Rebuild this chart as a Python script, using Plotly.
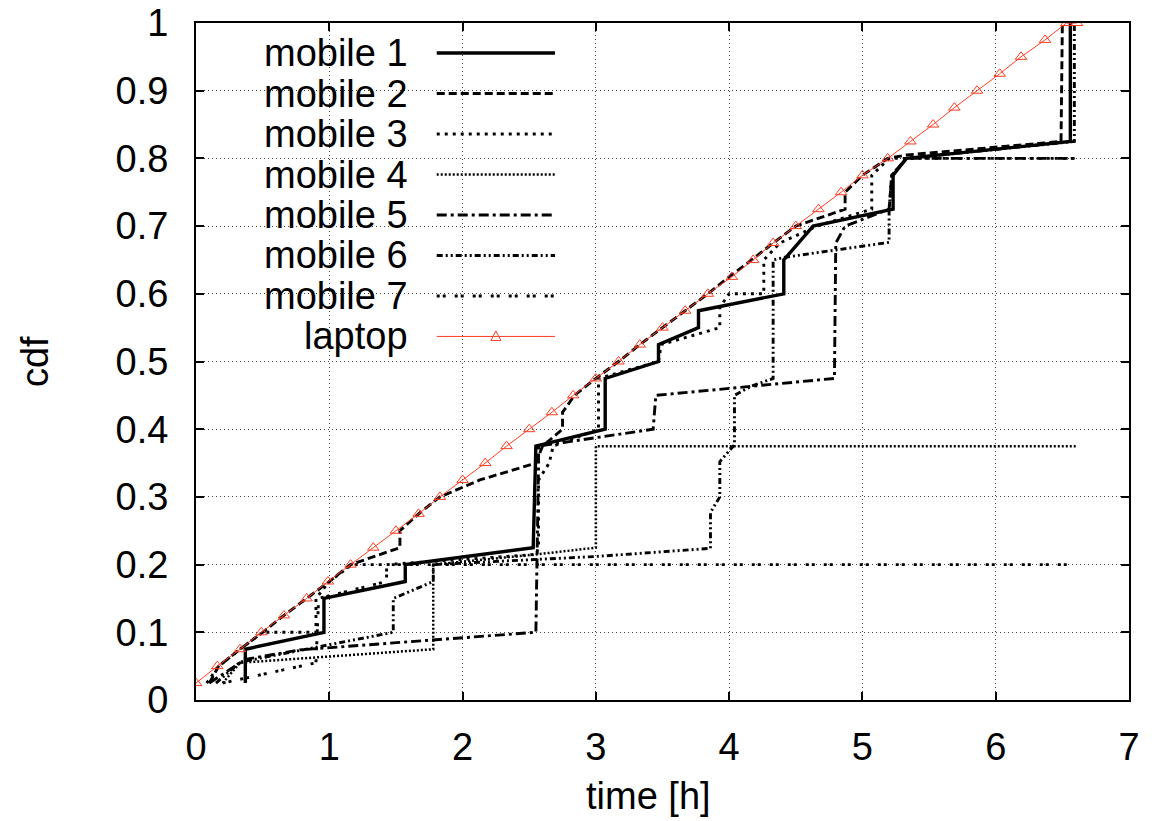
import plotly.graph_objects as go

# ---------------- data ----------------
lap_x = [0.0, 0.16, 0.33, 0.49, 0.66, 0.83, 0.99, 1.16, 1.33, 1.50, 1.67, 1.83, 2.00, 2.17,
         2.33, 2.50, 2.67, 2.83, 3.00, 3.17, 3.33, 3.50, 3.67, 3.84, 4.02, 4.18, 4.33, 4.50,
         4.67, 4.84, 5.00, 5.19, 5.36, 5.53, 5.69, 5.86, 6.03, 6.19, 6.37, 6.53, 6.61]
lap_y = [0.025, 0.05, 0.075, 0.1, 0.125, 0.15, 0.175, 0.2, 0.225, 0.25, 0.275, 0.3, 0.325, 0.35,
         0.375, 0.4, 0.425, 0.45, 0.475, 0.5, 0.525, 0.55, 0.575, 0.6, 0.625, 0.65, 0.675, 0.7,
         0.725, 0.75, 0.775, 0.8, 0.825, 0.85, 0.875, 0.9, 0.925, 0.95, 0.975, 1.0, 1.0]

m1_x = [0.37, 0.37, 0.96, 0.96, 1.57, 1.57, 2.53, 2.55, 3.07, 3.07, 3.47, 3.47, 3.77, 3.77,
        4.41, 4.41, 4.63, 5.23, 5.23, 5.33, 6.56, 6.56]
m1_y = [0.025, 0.075, 0.1, 0.15, 0.175, 0.2, 0.225, 0.375, 0.4, 0.475, 0.5, 0.525, 0.55, 0.575,
        0.6, 0.65, 0.7, 0.725, 0.775, 0.8, 0.825, 1.0]

m2_x = [0.1, 0.17, 0.33, 0.5, 0.66, 0.83, 1.0, 1.16, 1.53, 1.53, 1.67, 1.83, 2.13, 2.55, 2.6,
        2.75, 2.75, 2.84, 3.0, 3.17, 3.33, 3.5, 3.67, 3.84, 4.0, 4.17, 4.33, 4.5, 4.87, 4.87,
        5.0, 5.19, 5.33, 6.49, 6.5]
m2_y = [0.025, 0.05, 0.075, 0.1, 0.125, 0.15, 0.175, 0.2, 0.225, 0.25, 0.275, 0.3, 0.325, 0.35,
        0.375, 0.4, 0.425, 0.45, 0.475, 0.5, 0.525, 0.55, 0.575, 0.6, 0.625, 0.65, 0.675, 0.7,
        0.725, 0.75, 0.775, 0.8, 0.805, 0.825, 1.0]

m3_x = [0.08, 0.17, 0.33, 0.5, 0.9, 0.9, 1.0, 1.17, 1.43, 2.55, 2.57, 2.57, 2.65, 2.68, 3.02,
        3.02, 3.47, 3.49, 3.93, 3.93, 4.0, 4.26, 4.26, 4.38, 4.66, 5.07, 5.07, 5.2, 6.6]
m3_y = [0.025, 0.05, 0.075, 0.1, 0.1, 0.15, 0.175, 0.2, 0.2, 0.215, 0.225, 0.325, 0.35, 0.375,
        0.4, 0.475, 0.5, 0.525, 0.55, 0.58, 0.6, 0.6, 0.65, 0.675, 0.7, 0.725, 0.775, 0.8, 0.8]

m4_x = [0.2, 0.33, 1.78, 1.78, 2.55, 3.0, 3.0, 6.6]
m4_y = [0.025, 0.055, 0.075, 0.2, 0.215, 0.225, 0.375, 0.375]

m5_x = [0.1, 0.37, 0.78, 1.78, 2.55, 2.57, 2.57, 3.43, 3.45, 4.79, 4.8, 4.87, 5.2, 5.22,
        5.33, 6.6]
m5_y = [0.025, 0.06, 0.074, 0.089, 0.1, 0.35, 0.375, 0.4, 0.45, 0.475, 0.675, 0.7, 0.725,
        0.775, 0.8, 0.8]

m6_x = [0.15, 0.33, 1.48, 1.48, 1.78, 1.78, 3.0, 3.86, 3.86, 3.93, 3.93, 4.04, 4.04, 4.16,
        4.33, 4.33, 4.42, 5.2, 5.2, 5.22, 5.33, 6.59, 6.59]
m6_y = [0.025, 0.056, 0.1, 0.15, 0.175, 0.2, 0.212, 0.224, 0.277, 0.3, 0.352, 0.377, 0.45,
        0.463, 0.475, 0.65, 0.654, 0.676, 0.725, 0.775, 0.8, 0.825, 1.0]

m7_x = [0.2, 0.43, 0.9, 0.92, 1.43, 1.43, 6.6]
m7_y = [0.025, 0.035, 0.055, 0.15, 0.175, 0.2, 0.2]

series_names = ["mobile 1", "mobile 2", "mobile 3", "mobile 4", "mobile 5", "mobile 6",
                "mobile 7", "laptop"]

x_ticks = [0, 1, 2, 3, 4, 5, 6, 7]
y_ticks = [0, 0.1, 0.2, 0.3, 0.4, 0.5, 0.6, 0.7, 0.8, 0.9, 1]

# ---------------- styles ----------------
FONT = "Liberation Sans, Arial, Helvetica, sans-serif"
RED = "#ff3d22"
styles = [
    dict(dash="solid", width=3.4),
    dict(dash="8px,4px", width=2.9),
    dict(dash="3px,5px", width=2.9),
    dict(dash="2px,2px", width=2.5),
    dict(dash="10px,4px,3px,4px", width=2.9),
    dict(dash="6px,3px,2px,3px,2px,3px", width=2.9),
    dict(dash="3px,3px,3px,9px", width=2.9),
]
mobile = [(m1_x, m1_y), (m2_x, m2_y), (m3_x, m3_y), (m4_x, m4_y),
          (m5_x, m5_y), (m6_x, m6_y), (m7_x, m7_y)]

fig = go.Figure()
for (xs, ys), st, nm in zip(mobile, styles, series_names):
    fig.add_trace(go.Scatter(x=xs, y=ys, mode="lines", name=nm,
                             line=dict(color="black", width=st["width"], dash=st["dash"])))
fig.add_trace(go.Scatter(x=lap_x, y=lap_y, mode="lines+markers", name="laptop",
                         line=dict(color=RED, width=1),
                         marker=dict(symbol="triangle-up-open", size=10, color=RED,
                                     line=dict(width=1, color=RED))))

# ---------------- manual legend (text left, sample right) ----------------
shapes = []
annotations = []
shapes.append(dict(type="rect", xref="paper", yref="paper", x0=0.0, x1=0.41, y0=0.48, y1=1.0,
                   fillcolor="white", line=dict(width=0), layer="between"))
row0 = 0.9556
step = 0.0598
lx0, lx1 = 0.258, 0.3848
for i, nm in enumerate(series_names):
    yy = row0 - i * step
    annotations.append(dict(text=nm, x=0.2294, y=yy, xref="paper", yref="paper",
                            xanchor="right", yanchor="middle", showarrow=False,
                            font=dict(family=FONT, size=38, color="black")))
    if i < 7:
        st = styles[i]
        shapes.append(dict(type="line", xref="paper", yref="paper", x0=lx0, x1=lx1, y0=yy, y1=yy,
                           line=dict(color="black", width=st["width"], dash=st["dash"])))
    else:
        shapes.append(dict(type="line", xref="paper", yref="paper", x0=lx0, x1=lx1, y0=yy, y1=yy,
                           line=dict(color=RED, width=1)))
        cx = (lx0 + lx1) / 2
        dx = 5 / 933
        dy = 5 / 676
        shapes.append(dict(type="path", xref="paper", yref="paper",
                           path=f"M {cx - dx},{yy - dy * 0.8} L {cx + dx},{yy - dy * 0.8} L {cx},{yy + dy * 1.1} Z",
                           line=dict(color=RED, width=1), fillcolor="rgba(0,0,0,0)"))

annotations.append(dict(text="time [h]", x=0.4845, y=-0.142, xref="paper", yref="paper",
                        xanchor="center", yanchor="middle", showarrow=False,
                        font=dict(family=FONT, size=38, color="black")))
annotations.append(dict(text="cdf", x=-0.173, y=0.5, xref="paper", yref="paper",
                        xanchor="center", yanchor="middle", showarrow=False, textangle=-90,
                        font=dict(family=FONT, size=38, color="black")))

axis_common = dict(showline=True, linecolor="black", linewidth=2, mirror="allticks",
                   ticks="inside", ticklen=8, tickwidth=1.5, tickcolor="black",
                   showgrid=True, gridcolor="#444444", gridwidth=1, griddash="1px,3px",
                   zeroline=False, automargin=False,
                   tickfont=dict(family=FONT, size=38, color="black"))

fig.update_layout(
    width=1152, height=821,
    margin=dict(l=196, r=23, t=23, b=121, pad=0),
    paper_bgcolor="white", plot_bgcolor="white",
    showlegend=False,
    xaxis=dict(range=[0, 7], tickvals=x_ticks, ticktext=[str(v) for v in x_ticks],
               ticklabelstandoff=12, **axis_common),
    yaxis=dict(range=[0, 1], tickvals=y_ticks, ticktext=[f"{v:g}" for v in y_ticks],
               ticklabelstandoff=18, **axis_common),
    shapes=shapes, annotations=annotations,
)

fig.write_html("out.html", config={"displayModeBar": False},
               post_script="document.body.style.margin='0';")
